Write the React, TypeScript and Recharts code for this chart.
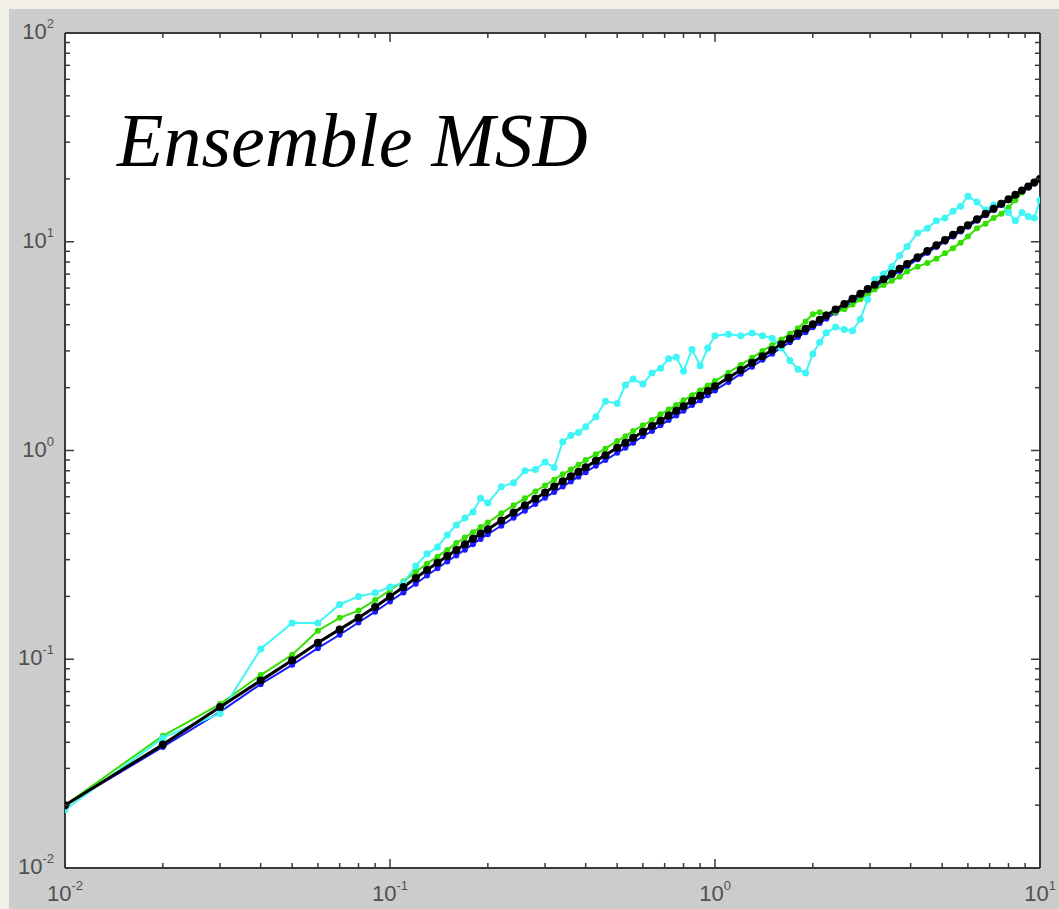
import { CartesianGrid, Line, LineChart, XAxis, YAxis } from 'recharts';

// lag time (s)
const lagTimes = [
  0.01, 0.02, 0.03, 0.04, 0.05, 0.06, 0.07, 0.08, 0.09, 0.1,
  0.11, 0.12, 0.13, 0.14, 0.15, 0.16, 0.17, 0.18, 0.19, 0.2,
  0.22, 0.24, 0.26, 0.28, 0.3, 0.32, 0.34, 0.36, 0.38, 0.4,
  0.43, 0.46, 0.5, 0.53, 0.56, 0.6, 0.64, 0.68, 0.72, 0.76, 0.8, 0.85, 0.9, 0.95, 1.0,
  1.1, 1.2, 1.3, 1.4, 1.5, 1.6, 1.7, 1.8, 1.9, 2.0,
  2.1, 2.2, 2.35, 2.5, 2.65, 2.8, 2.95, 3.1, 3.3, 3.5, 3.7, 3.9,
  4.2, 4.5, 4.8, 5.1, 5.4, 5.7, 6.0, 6.4, 6.8, 7.2, 7.6, 8.0, 8.4, 8.8, 9.2, 9.6, 10.0,
];

const cyanMsd = [
  0.019, 0.042, 0.055, 0.112, 0.149, 0.149, 0.183, 0.2, 0.208, 0.222,
  0.232, 0.28, 0.32, 0.345, 0.394, 0.44, 0.475, 0.507, 0.59, 0.56,
  0.67, 0.7, 0.8, 0.81, 0.88, 0.83, 1.1, 1.18, 1.22, 1.3,
  1.45, 1.72, 1.68, 2.06, 2.2, 2.08, 2.35, 2.48, 2.75, 2.8, 2.4, 3.05, 2.55, 3.1, 3.55,
  3.6, 3.55, 3.65, 3.55, 3.45, 3.1, 2.7, 2.45, 2.35, 2.9,
  3.3, 3.66, 3.9, 3.8, 3.75, 4.25, 5.3, 6.6, 7.0, 7.6, 8.6, 9.5,
  11.0, 11.6, 12.6, 13.0, 14.0, 14.8, 16.5, 15.5, 14.2, 15.0, 15.3, 13.8, 12.6, 13.8, 13.2, 13.0, 15.8,
];

const greenMsd = [
  0.02, 0.043, 0.061, 0.084, 0.105, 0.137, 0.158, 0.171, 0.192, 0.214,
  0.236, 0.262, 0.287, 0.31, 0.334, 0.36, 0.383, 0.406, 0.43, 0.452,
  0.5, 0.546, 0.59, 0.636, 0.68, 0.725, 0.77, 0.81, 0.855, 0.9,
  0.96, 1.02, 1.11, 1.17, 1.24, 1.32, 1.4, 1.49, 1.57, 1.65, 1.74, 1.84, 1.94, 2.05, 2.15,
  2.36, 2.57, 2.78, 3.0, 3.2, 3.4, 3.62, 3.85, 4.15, 4.5,
  4.6, 4.5, 4.6, 4.75, 5.0, 5.3, 5.6, 5.9, 6.2, 6.5, 6.8, 7.2,
  7.6, 7.9, 8.3, 8.8, 9.3, 9.9, 10.6, 11.6, 12.2, 13.0, 13.6, 14.6, 15.8, 17.2, 18.4, 19.4, 20.3,
];

const blueMsd = [
  0.02, 0.038, 0.056, 0.076, 0.094, 0.113, 0.131, 0.15, 0.169, 0.189,
  0.209, 0.23, 0.252, 0.273, 0.294, 0.314, 0.335, 0.356, 0.377, 0.397,
  0.436, 0.476, 0.515, 0.554, 0.594, 0.633, 0.672, 0.71, 0.749, 0.787,
  0.845, 0.9, 0.975, 1.03, 1.09, 1.17, 1.24, 1.32, 1.4, 1.47, 1.55, 1.65, 1.74, 1.84, 1.94,
  2.13, 2.33, 2.52, 2.72, 2.91, 3.11, 3.3, 3.5, 3.69, 3.89,
  4.08, 4.28, 4.57, 4.87, 5.16, 5.46, 5.76, 6.06, 6.45, 6.85, 7.24, 7.64,
  8.24, 8.84, 9.44, 10.0, 10.6, 11.2, 11.8, 12.6, 13.4, 14.2, 15.0, 15.8, 16.6, 17.4, 18.2, 19.0, 19.9,
];

const blackMsd = [
  0.02, 0.039, 0.059, 0.079, 0.099, 0.12, 0.139, 0.158, 0.178, 0.2,
  0.222, 0.245, 0.268, 0.29, 0.312, 0.334, 0.356, 0.378, 0.4, 0.42,
  0.462, 0.504, 0.546, 0.588, 0.63, 0.672, 0.712, 0.752, 0.792, 0.832,
  0.892, 0.95, 1.03, 1.09, 1.15, 1.23, 1.31, 1.39, 1.47, 1.55, 1.63, 1.73, 1.83, 1.93, 2.03,
  2.23, 2.43, 2.63, 2.83, 3.03, 3.23, 3.43, 3.63, 3.83, 4.03,
  4.23, 4.43, 4.73, 5.03, 5.33, 5.63, 5.93, 6.23, 6.62, 7.02, 7.42, 7.82,
  8.42, 9.02, 9.62, 10.2, 10.8, 11.4, 12.0, 12.8, 13.6, 14.4, 15.2, 16.0, 16.8, 17.6, 18.4, 19.2, 20.0,
];

const xTicks = [
  0.01, 0.02, 0.03, 0.04, 0.05, 0.06, 0.07, 0.08, 0.09,
  0.1, 0.2, 0.3, 0.4, 0.5, 0.6, 0.7, 0.8, 0.9,
  1, 2, 3, 4, 5, 6, 7, 8, 9, 10,
];
const yTicks = [
  0.01, 0.02, 0.03, 0.04, 0.05, 0.06, 0.07, 0.08, 0.09,
  0.1, 0.2, 0.3, 0.4, 0.5, 0.6, 0.7, 0.8, 0.9,
  1, 2, 3, 4, 5, 6, 7, 8, 9,
  10, 20, 30, 40, 50, 60, 70, 80, 90, 100,
];
const xMajors = [0.01, 0.1, 1, 10];
const xExponents = ['-2', '-1', '0', '1'];
const yMajors = [0.01, 0.1, 1, 10, 100];
const yExponents = ['-2', '-1', '0', '1', '2'];

const rows = lagTimes.map((t, i) => ({
  t,
  cyan: cyanMsd[i],
  green: greenMsd[i],
  blue: blueMsd[i],
  black: blackMsd[i],
}));

const AXIS = '#3a3a3a';
const LABEL = '#505050';
const LABEL_FONT = 'Liberation Sans, Arial, sans-serif';

function InwardTick(props: any) {
  const { x, y, payload, side } = props;
  const v = payload.value;
  const horizontal = side === 'bottom' || side === 'top';
  const majors = horizontal ? xMajors : yMajors;
  const idx = majors.findIndex((m) => Math.abs(m - v) < m * 1e-6);
  const len = idx >= 0 ? 9 : 5;
  let x2 = x;
  let y2 = y;
  if (side === 'bottom') y2 = y - len;
  if (side === 'top') y2 = y + len;
  if (side === 'left') x2 = x + len;
  if (side === 'right') x2 = x - len;
  return (
    <g>
      <line x1={x} y1={y} x2={x2} y2={y2} stroke={AXIS} strokeWidth={1.5} />
      {idx >= 0 && side === 'bottom' && (
        <text x={x} y={y + 33} textAnchor="middle" fill={LABEL} fontSize={22} fontFamily={LABEL_FONT}>
          10
          <tspan dy={-11} fontSize={13}>{xExponents[idx]}</tspan>
        </text>
      )}
      {idx >= 0 && side === 'left' && (
        <text x={x - 11} y={y + 6} textAnchor="end" fill={LABEL} fontSize={22} fontFamily={LABEL_FONT}>
          10
          <tspan dy={-11} fontSize={13}>{yExponents[idx]}</tspan>
        </text>
      )}
    </g>
  );
}

export default function App() {
  return (
    <div style={{ position: 'absolute', left: 0, top: 0, width: 1059, height: 909, background: '#f3efe9', overflow: 'hidden' }}>
      <div style={{ position: 'absolute', left: 9, top: 9, width: 1050, height: 900, background: '#cccccc' }} />
      <div style={{ position: 'absolute', left: 0, top: 0 }}>
        <LineChart width={1059} height={909} data={rows} margin={{ top: 0, right: 0, bottom: 0, left: 0 }}>
          <CartesianGrid fill="#ffffff" horizontal={false} vertical={false} />
          <XAxis
            dataKey="t"
            type="number"
            scale="log"
            domain={[0.01, 10]}
            allowDataOverflow
            ticks={xTicks}
            interval={0}
            height={41}
            tickSize={0}
            tickMargin={0}
            tickLine={false}
            axisLine={{ stroke: AXIS, strokeWidth: 2 }}
            tick={(p: any) => <InwardTick {...p} side="bottom" />}
          />
          <XAxis
            xAxisId="top"
            orientation="top"
            dataKey="t"
            type="number"
            scale="log"
            domain={[0.01, 10]}
            allowDataOverflow
            ticks={xTicks}
            interval={0}
            height={33}
            tickSize={0}
            tickMargin={0}
            tickLine={false}
            axisLine={{ stroke: AXIS, strokeWidth: 2 }}
            tick={(p: any) => <InwardTick {...p} side="top" />}
          />
          <YAxis
            type="number"
            scale="log"
            domain={[0.01, 100]}
            allowDataOverflow
            ticks={yTicks}
            interval={0}
            width={65}
            tickSize={0}
            tickMargin={0}
            tickLine={false}
            axisLine={{ stroke: AXIS, strokeWidth: 2 }}
            tick={(p: any) => <InwardTick {...p} side="left" />}
          />
          <YAxis
            yAxisId="right"
            orientation="right"
            type="number"
            scale="log"
            domain={[0.01, 100]}
            allowDataOverflow
            ticks={yTicks}
            interval={0}
            width={19}
            tickSize={0}
            tickMargin={0}
            tickLine={false}
            axisLine={{ stroke: AXIS, strokeWidth: 2 }}
            tick={(p: any) => <InwardTick {...p} side="right" />}
          />
          <Line dataKey="blue" stroke="#1a1aff" strokeWidth={2} dot={{ r: 3, fill: '#1a1aff', stroke: 'none' }} activeDot={false} isAnimationActive={false} />
          <Line dataKey="green" stroke="#33e000" strokeWidth={2} dot={{ r: 3, fill: '#33e000', stroke: 'none' }} activeDot={false} isAnimationActive={false} />
          <Line dataKey="cyan" stroke="#3ff5f5" strokeWidth={2} dot={{ r: 3.5, fill: '#3ff5f5', stroke: 'none' }} activeDot={false} isAnimationActive={false} />
          <Line dataKey="black" stroke="#000000" strokeWidth={3} dot={{ r: 4, fill: '#000000', stroke: 'none' }} activeDot={false} isAnimationActive={false} />
        </LineChart>
      </div>
      <svg width={1059} height={909} style={{ position: 'absolute', left: 0, top: 0, pointerEvents: 'none' }}>
        <text x={117} y={166} fontFamily="Liberation Serif, serif" fontStyle="italic" fontSize={76} fill="#000">
          Ensemble MSD
        </text>
      </svg>
    </div>
  );
}
